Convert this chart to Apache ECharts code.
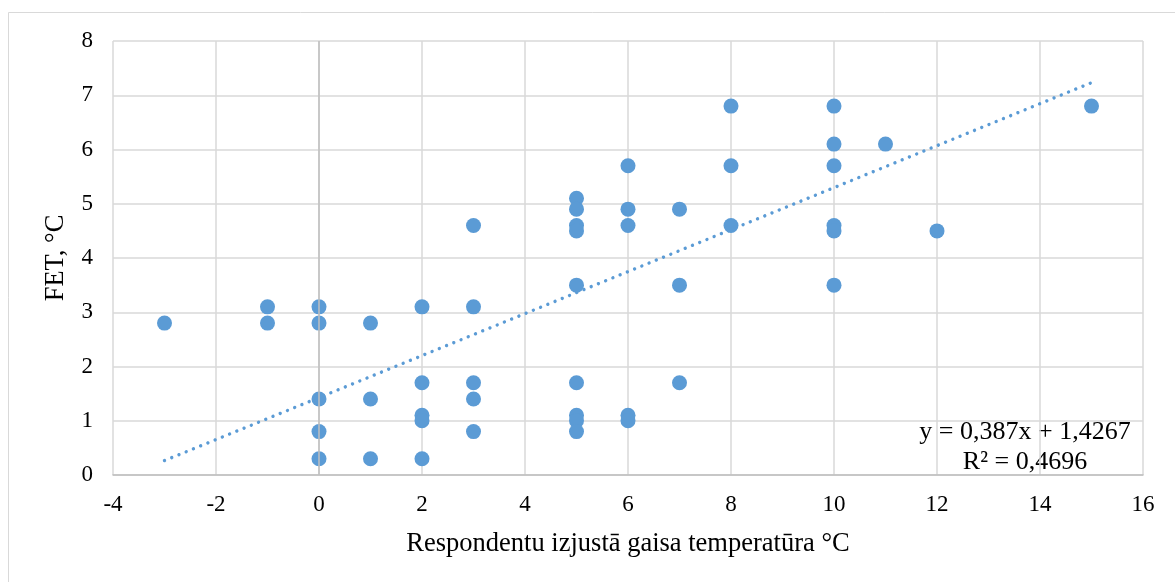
<!DOCTYPE html>
<html>
<head>
<meta charset="utf-8">
<script src="https://cdn.jsdelivr.net/npm/echarts@6/dist/echarts.min.js"></script>
<style>
  html, body { margin: 0; padding: 0; background: #fff; }
  #chart { width: 1175px; height: 582px; }
</style>
</head>
<body>
<div id="chart"></div>
<script>
// Respondents' perceived air temperature (°C) vs. FET (°C)
const feltTemp = [
  -3,
  -1, -1,
  0, 0, 0, 0, 0,
  1, 1, 1,
  2, 2, 2, 2, 2,
  3, 3, 3, 3, 3,
  5, 5, 5, 5, 5, 5, 5, 5, 5,
  6, 6, 6, 6, 6,
  7, 7, 7,
  8, 8, 8,
  10, 10, 10, 10, 10, 10,
  11,
  12,
  15
];
const fet = [
  2.8,
  3.1, 2.8,
  3.1, 2.8, 1.4, 0.8, 0.3,
  2.8, 1.4, 0.3,
  3.1, 1.7, 1.1, 1.0, 0.3,
  4.6, 3.1, 1.7, 1.4, 0.8,
  5.1, 4.9, 4.6, 4.5, 3.5, 1.7, 1.1, 1.0, 0.8,
  5.7, 4.9, 4.6, 1.1, 1.0,
  4.9, 3.5, 1.7,
  6.8, 5.7, 4.6,
  6.8, 6.1, 5.7, 4.6, 4.5, 3.5,
  6.1,
  4.5,
  6.8
];

// Linear trend line as reported on the chart
const trendSlope = 0.387;
const trendIntercept = 1.4267;
const trendR2 = 0.4696;
const trendRange = [-3, 15];

const xTitle = 'Respondentu izjustā gaisa temperatūra °C';
const yTitle = 'FET, °C';

const fmt = (v, d) => v.toFixed(d).replace('.', ',');
const eqLine = 'y = ' + fmt(trendSlope, 3) + 'x + ' + fmt(trendIntercept, 4);
const r2Line = 'R² = ' + fmt(trendR2, 4);

const points = feltTemp.map((x, i) => [x, fet[i]]);
const trend = trendRange.map(x => [x, trendSlope * x + trendIntercept]);

const serif = '"Liberation Serif", "Times New Roman", serif';
const chart = echarts.init(document.getElementById('chart'));

chart.setOption({
  animation: false,
  backgroundColor: '#fff',
  textStyle: { fontFamily: serif },
  grid: { left: 113, right: 32, top: 41, bottom: 107, containLabel: false },
  xAxis: {
    type: 'value',
    min: -4, max: 16, interval: 2,
    name: xTitle,
    nameLocation: 'middle',
    nameGap: 56,
    nameTextStyle: { fontFamily: serif, fontSize: 26.5, color: '#000' },
    axisLine: { show: true, onZero: false, lineStyle: { color: '#bfbfbf', width: 1.5 } },
    axisTick: { show: false },
    axisLabel: { fontFamily: serif, fontSize: 23, color: '#000', margin: 18 },
    splitLine: { show: true, lineStyle: { color: '#d9d9d9', width: 1.5 } }
  },
  yAxis: {
    type: 'value',
    min: 0, max: 8, interval: 1,
    name: yTitle,
    nameLocation: 'middle',
    nameGap: 43,
    nameTextStyle: { fontFamily: serif, fontSize: 26.5, color: '#000' },
    axisLine: { show: false },
    axisTick: { show: false },
    axisLabel: { fontFamily: serif, fontSize: 23, color: '#000', margin: 20 },
    splitLine: { show: true, lineStyle: { color: '#d9d9d9', width: 1.5 } }
  },
  graphic: [
    {
      type: 'rect',
      silent: true,
      z: -1,
      shape: { x: 8.5, y: 12.5, width: 1200, height: 600 },
      style: { fill: 'none', stroke: '#d9d9d9', lineWidth: 1 }
    },
    {
      type: 'text',
      x: 1025, y: 432,
      style: {
        text: eqLine, fontFamily: serif, fontSize: 26, fill: '#000',
        textAlign: 'center', textVerticalAlign: 'middle'
      }
    },
    {
      type: 'text',
      x: 1025, y: 462,
      style: {
        text: r2Line, fontFamily: serif, fontSize: 26, fill: '#000',
        textAlign: 'center', textVerticalAlign: 'middle'
      }
    }
  ],
  series: [
    {
      type: 'line',
      data: trend,
      symbol: 'none',
      z: 3,
      lineStyle: { color: '#5b9bd5', width: 3.4, type: [0.01, 7.8], cap: 'round' },
      markLine: {
        silent: true,
        symbol: 'none',
        label: { show: false },
        lineStyle: { color: '#bfbfbf', width: 1.5, type: 'solid' },
        data: [{ xAxis: 0 }]
      }
    },
    {
      type: 'scatter',
      data: points,
      symbol: 'circle',
      symbolSize: 15,
      z: 4,
      itemStyle: { color: '#5b9bd5', opacity: 1 }
    }
  ]
});
</script>
</body>
</html>
